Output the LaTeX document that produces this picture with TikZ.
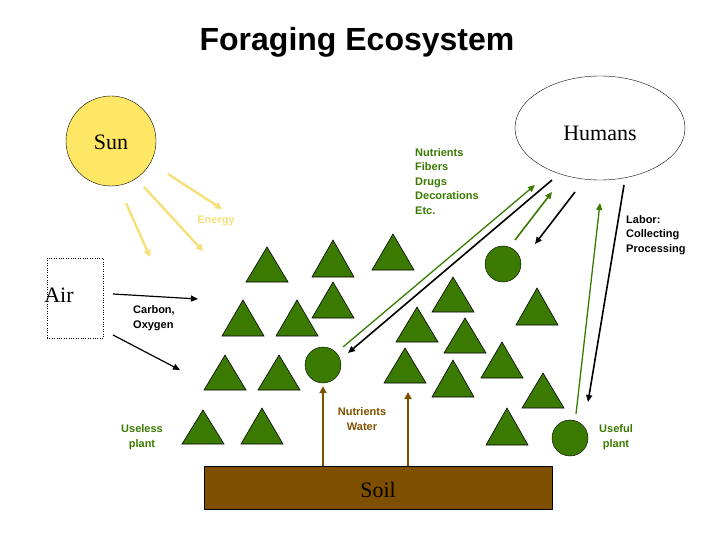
\documentclass[tikz,border=0pt]{standalone}
\usepackage{fontspec}
\setmainfont{Liberation Serif}
\newfontfamily\lsans{Liberation Sans}
\usetikzlibrary{arrows.meta,shapes.geometric}
\definecolor{leaf}{HTML}{3A7A00}
\definecolor{sunc}{HTML}{FFE766}
\definecolor{rayc}{HTML}{F5E07A}
\definecolor{soilc}{HTML}{7F4F00}
\begin{document}
\begin{tikzpicture}[x=1pt,y=-1pt,
  tri/.style={fill=leaf,draw=black,line width=0.6pt},
  plant/.style={circle,fill=leaf,draw=black,minimum size=36pt,inner sep=0pt},
  lab/.style={font=\lsans\bfseries\fontsize{11}{14.5}\selectfont,align=left,inner sep=0pt},
  big/.style={font=\fontsize{22}{26}\selectfont},
  ray/.style={rayc,line width=2.4pt,-{Triangle[length=7pt,width=7pt]}},
  blk/.style={black,line width=1.6pt,-{Triangle[length=7pt,width=6pt]}},
  grn/.style={leaf,line width=1.6pt,-{Triangle[length=7pt,width=6pt]}},
  brn/.style={soilc,line width=2.2pt,-{Triangle[length=7pt,width=7pt]}}]
\useasboundingbox (0,0) rectangle (720,540);
\node (title) at (357,42) {\lsans\bfseries\fontsize{32}{36}\selectfont Foraging Ecosystem};
\node[circle,fill=sunc,draw=black,minimum size=90pt,inner sep=0pt] (sun) at (111,141) {};
\node[big] (suntext) at (111,142) {Sun};
\node[ellipse,draw=black,minimum width=170pt,minimum height=104pt,inner sep=0pt] (hum) at (600,128) {};
\node[big] (humtext) at (600,133) {Humans};
\node[draw=black,dotted,minimum width=56pt,minimum height=80pt] (air) at (75,298) {};
\node[big] (airtext) at (59,295) {Air};
\node[fill=soilc,draw=black,minimum width=348pt,minimum height=43pt,inner sep=0pt] (soil) at (378,488) {};
\node[big] at (378,490) {Soil};
% triangles: apex x, apex y, base y
\foreach \x/\a/\b in {267/247/282,333/240/277,393/234/270,333/282/318,453/277/312,537/288/325,
  243/300/336,297/300/336,417/307/342,465/318/353,405/348/383,453/360/397,502/342/378,
  543/373/408,507/408/445,225/355/390,279/355/390,203/410/444,262/408/444}
  \draw[tri] (\x,\a) -- (\x+21,\b) -- (\x-21,\b) -- cycle;
\node[plant] (p1) at (503,264) {};
\node[plant] (p2) at (323,365) {};
\node[plant] (p3) at (570,438) {};
% sun rays
\coordinate (r1s) at (126,203); \coordinate (r1e) at (150,257);
\coordinate (r2s) at (144,187); \coordinate (r2e) at (203,251);
\coordinate (r3s) at (168,174); \coordinate (r3e) at (222,209);
\draw[ray] (r1s) -- (r1e); \draw[ray] (r2s) -- (r2e); \draw[ray] (r3s) -- (r3e);
\node[lab,text=rayc] (energy) at (216,221) {Energy};
% air
\coordinate (a1s) at (113,294); \coordinate (a1e) at (198,299);
\coordinate (a2s) at (113,335); \coordinate (a2e) at (180,370);
\draw[blk,line width=1.2pt] (a1s) -- (a1e); \draw[blk,line width=1.2pt] (a2s) -- (a2e);
\node[lab,anchor=west] (co) at (133,318) {Carbon,\\Oxygen};
% humans exchanges
\coordinate (g1s) at (343,347); \coordinate (g1e) at (535,185);
\coordinate (b1s) at (552,180); \coordinate (b1e) at (348,353);
\coordinate (g2s) at (515,240); \coordinate (g2e) at (552,192);
\coordinate (b2s) at (575,192); \coordinate (b2e) at (535,244);
\coordinate (g3s) at (576,414); \coordinate (g3e) at (600,203);
\coordinate (b3s) at (624,185); \coordinate (b3e) at (588,402);
\draw[grn,line width=1.3pt] (g1s) -- (g1e); \draw[blk] (b1s) -- (b1e);
\draw[grn] (g2s) -- (g2e); \draw[blk] (b2s) -- (b2e);
\draw[grn,line width=1.3pt] (g3s) -- (g3e); \draw[blk] (b3s) -- (b3e);
\node[lab,text=leaf,anchor=north west] (nut) at (415,148) {Nutrients\\Fibers\\Drugs\\Decorations\\Etc.};
\node[lab,anchor=north west] (labor) at (626,215) {Labor:\\Collecting\\Processing};
% soil arrows
\draw[brn] (soil.north -| p2) -- ([yshift=-3pt]p2.south);
\coordinate (s2) at (408,392);
\draw[brn] (soil.north -| s2) -- (s2);
\node[lab,text=soilc,align=center] (nw) at (362,419) {Nutrients\\Water};
\node[lab,text=leaf,align=center] (useless) at (142,437) {Useless\\plant};
\node[lab,text=leaf,align=center] (useful) at (616,437) {Useful\\plant};
\end{tikzpicture}
\end{document}
